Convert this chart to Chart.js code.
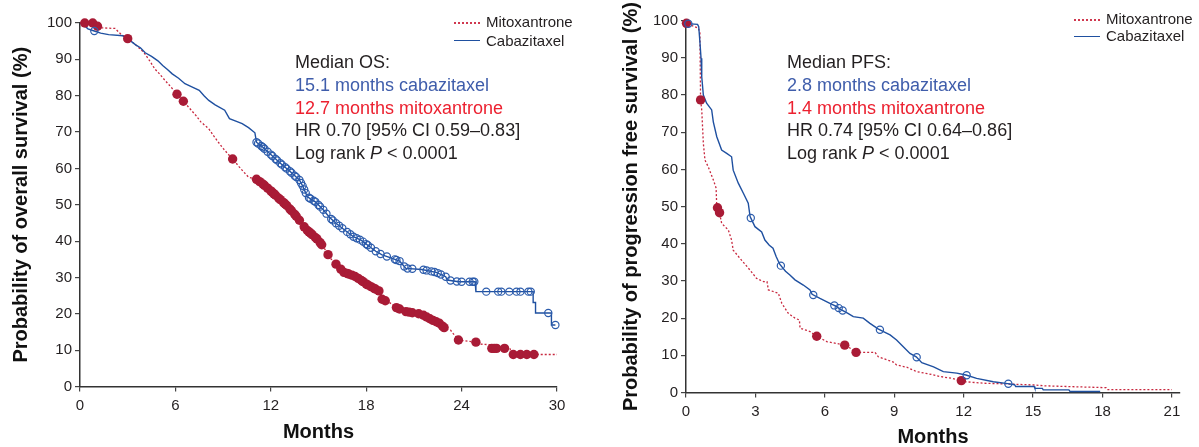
<!DOCTYPE html>
<html>
<head>
<meta charset="utf-8">
<script src="https://cdn.jsdelivr.net/npm/chart.js@4.4.1/dist/chart.umd.min.js"></script>
<style>
  html,body{margin:0;padding:0;background:#fff;}
  body{width:1199px;height:447px;position:relative;overflow:hidden;font-family:"Liberation Sans",Arial,sans-serif;color:#231f20;}
  .wrap{position:absolute;top:0;}
  .t{position:absolute;white-space:nowrap;font-size:18px;line-height:22px;}
  .lg{position:absolute;white-space:nowrap;font-size:15px;line-height:18px;}
  .ln{position:absolute;height:0;}
</style>
</head>
<body>
<div class="wrap" style="left:0;width:600px;height:447px"><canvas id="c1" width="600" height="447"></canvas></div>
<div class="wrap" style="left:600px;width:599px;height:447px"><canvas id="c2" width="599" height="447"></canvas></div>

<!-- left legend + annotation -->
<div class="ln" style="left:454px;top:22px;width:26px;border-top:2px dotted #d0384f"></div>
<div class="lg" style="left:486px;top:13px">Mitoxantrone</div>
<div class="ln" style="left:454px;top:40px;width:26px;border-top:1.5px solid #1f50a0"></div>
<div class="lg" style="left:486px;top:32px">Cabazitaxel</div>
<div class="t" style="left:295px;top:51px">Median OS:</div>
<div class="t" style="left:295px;top:74px;color:#3f5dab">15.1 months cabazitaxel</div>
<div class="t" style="left:295px;top:97px;color:#ec2130">12.7 months mitoxantrone</div>
<div class="t" style="left:295px;top:119px">HR 0.70 [95% CI 0.59–0.83]</div>
<div class="t" style="left:295px;top:142px">Log rank <i>P</i> &lt; 0.0001</div>

<!-- right legend + annotation -->
<div class="ln" style="left:1074px;top:19px;width:26px;border-top:2px dotted #d0384f"></div>
<div class="lg" style="left:1106px;top:10px">Mitoxantrone</div>
<div class="ln" style="left:1074px;top:36px;width:26px;border-top:1.5px solid #1f50a0"></div>
<div class="lg" style="left:1106px;top:27px">Cabazitaxel</div>
<div class="t" style="left:787px;top:51px">Median PFS:</div>
<div class="t" style="left:787px;top:74px;color:#3f5dab">2.8 months cabazitaxel</div>
<div class="t" style="left:787px;top:97px;color:#ec2130">1.4 months mitoxantrone</div>
<div class="t" style="left:787px;top:119px">HR 0.74 [95% CI 0.64–0.86]</div>
<div class="t" style="left:787px;top:142px">Log rank <i>P</i> &lt; 0.0001</div>

<script>
// ---------- DATA ----------  ([months, survival %] curve vertices)
// Overall survival (left panel)
const osXTicks = [0, 6, 12, 18, 24, 30];
const osCab = [[0,100],[0.3,99.2],[0.5,98.4],[0.9,97.8],[1.3,97.2],[1.8,96.8],[2.7,96.5],[2.9,95.8],[3.2,95],[3.5,94],[3.8,93.2],[4.1,91.8],[4.5,90.8],[4.9,89.6],[5.2,88.3],[5.5,87.2],[5.8,86],[6.2,84.8],[6.6,83.3],[7.0,82.5],[7.5,81.5],[7.8,80],[8.1,78.7],[8.5,77.5],[9.1,76],[9.4,73.7],[9.8,73],[10.2,72.3],[10.6,71.2],[11.0,69.8],[11.1,67.2],[11.5,65.8],[12.0,63.8],[12.6,61.4],[13.2,59.2],[13.8,56.8],[14.0,55.2],[14.3,52.2],[14.8,50.8],[15.3,48.6],[15.7,46.5],[16.1,44.9],[16.6,43.2],[17.2,41.2],[17.7,40.2],[18.2,38.5],[18.6,37.2],[19.0,36.2],[19.6,35.3],[20.1,34.5],[20.3,33.5],[20.5,32.5],[21.5,32.2],[22.4,31.4],[23.0,30.2],[23.1,29.3],[23.8,28.8],[24.85,28.8],[24.9,26.1],[28.5,26.1],[28.5,23.1],[28.65,23.1],[28.65,20.2],[29.65,20.2],[29.65,16.9],[29.9,16.9]];
const osCabCensor = [0.9,11.1,11.2,11.4,11.5,11.6,11.8,12.0,12.1,12.3,12.4,12.6,12.7,12.9,13.0,13.2,13.3,13.5,13.6,13.8,13.9,14.0,14.1,14.2,14.4,14.5,14.7,14.8,15.0,15.1,15.3,15.5,15.8,15.9,16.1,16.3,16.5,16.8,17.0,17.2,17.4,17.6,17.8,18.0,18.1,18.3,18.6,18.9,19.3,19.8,19.9,20.1,20.4,20.6,20.9,21.6,21.8,22.1,22.3,22.5,22.7,23.0,23.3,23.7,24.0,24.5,24.7,24.8,25.55,26.3,26.5,27.0,27.45,27.7,28.2,28.35,29.45,29.9];
const osMit = [[0,100],[1.0,100],[1.05,99.3],[1.2,98.7],[2.2,98.5],[2.6,96.8],[3.0,95.7],[3.5,94],[4.0,92],[4.4,89.5],[4.7,87.4],[5.0,86],[5.35,84.2],[5.7,82.5],[6.1,80.4],[6.45,78.7],[6.7,77.5],[7.0,76],[7.3,74.5],[7.6,72.8],[8.1,70.9],[8.4,69],[8.7,67.2],[9.0,65.5],[9.3,64],[9.6,62.6],[10.0,60.5],[10.3,59],[10.6,57.6],[11.1,57.0],[11.5,55.7],[12.0,53.8],[12.5,51.8],[13.0,49.8],[13.5,47.4],[13.9,45.2],[14.2,43.3],[14.6,41.8],[15.0,40.2],[15.4,37.8],[15.7,35.5],[16.2,33.2],[16.6,31.4],[17.2,30.5],[17.6,29.5],[18.0,28.2],[18.5,27],[18.8,26.3],[19.0,24],[19.5,23],[19.9,21.7],[20.5,20.6],[21.3,20.0],[21.6,19.6],[22.1,18.4],[22.6,17.4],[23.0,15.8],[23.3,15.5],[23.8,12.8],[24.9,12.2],[25.0,11.7],[25.8,11.5],[25.9,10.5],[27.05,10.5],[27.1,8.8],[30,8.8]];
const osMitCensor = [0.3,0.8,1.1,3.0,6.1,6.5,9.6,11.1,11.3,11.5,11.6,11.8,12.0,12.1,12.2,12.3,12.5,12.6,12.8,12.9,13.0,13.2,13.3,13.5,13.6,13.8,14.1,14.3,14.4,14.5,14.6,14.8,14.9,15.1,15.2,15.6,16.1,16.4,16.6,16.8,16.9,17.1,17.3,17.5,17.7,17.8,18.0,18.1,18.3,18.5,18.6,18.8,19.0,19.2,19.9,20.1,20.5,20.7,20.9,21.3,21.6,21.8,22.0,22.2,22.4,22.6,22.8,22.9,23.8,24.9,25.9,26.05,26.2,26.7,27.25,27.7,28.1,28.55];

// Progression free survival (right panel)
const pfsXTicks = [0, 3, 6, 9, 12, 15, 18, 21];
const pfsCab = [[0,100],[0.05,99.2],[0.5,99],[0.55,98.4],[0.6,94.4],[0.65,89.9],[0.68,84.9],[0.75,80],[0.89,77.8],[1.11,76],[1.18,72.8],[1.33,68.8],[1.54,65.2],[1.76,64.3],[1.97,63.4],[2.04,59.8],[2.26,56.3],[2.48,53.6],[2.69,50.9],[2.77,47.3],[2.98,44.6],[3.27,43.2],[3.41,41],[3.6,39.6],[3.76,38.8],[3.9,36.5],[4.05,34.5],[4.3,32.6],[4.49,31.6],[4.71,30.3],[5.07,28.9],[5.36,27.6],[5.45,26.4],[5.79,25.3],[6.22,24],[6.45,23.3],[6.7,22.3],[7.0,21.3],[7.23,20.4],[7.66,20],[7.95,18.6],[8.3,17.1],[8.6,16.2],[8.82,15.5],[9.1,14.1],[9.39,12.3],[9.68,10.5],[9.95,9.6],[10.19,8],[10.7,6.9],[11.12,5.6],[11.7,5.2],[12.1,4.7],[12.56,3.8],[13.28,2.9],[13.9,2.4],[14.2,2.1],[14.25,1.6],[15.05,1.6],[15.08,1.1],[15.4,1.1],[15.44,0.7],[16.55,0.7],[16.6,0.25],[17.9,0.25]];
const pfsCabCensor = [0.1,2.8,4.1,5.5,6.41,6.6,6.77,8.38,9.97,12.13,13.93];
const pfsMit = [[0,100],[0.02,99.3],[0.53,98],[0.6,96.8],[0.63,78.7],[0.68,76],[0.75,67],[0.82,62.5],[0.96,60.7],[1.18,57.2],[1.3,55],[1.33,50],[1.43,49],[1.54,45.5],[1.83,43.7],[1.97,41],[2.04,38.3],[2.33,36.1],[2.55,34.5],[2.77,32.9],[3.05,30.7],[3.35,29.8],[3.5,29.8],[3.56,27.6],[3.99,26.7],[4.14,24],[4.42,21.3],[4.71,20],[4.9,19.5],[4.93,17.3],[5.36,16.4],[5.6,15.3],[6.08,13.7],[6.5,13.2],[6.84,12.8],[7.1,11.9],[7.3,10.8],[8.17,10.8],[8.31,9.6],[8.96,8.2],[9.1,7.4],[9.54,6.8],[9.97,5.6],[10.5,5.0],[10.98,4.3],[11.5,3.8],[11.84,3.3],[12.06,2.9],[12.85,2.5],[13.86,2.3],[15.15,2.0],[15.44,1.8],[18.15,1.3],[18.2,0.8],[21.0,0.8]];
const pfsMitCensor = [0.02,0.63,1.36,1.45,5.65,6.86,7.35,11.9];

const yTicksStep = 10;

// ---------- HELPERS ----------
const toPts = arr => arr.map(p => ({x: p[0], y: p[1]}));
function survAt(curve, t) {
  if (t <= curve[0][0]) return curve[0][1];
  for (let i = 0; i < curve.length - 1; i++) {
    const [x0, y0] = curve[i], [x1, y1] = curve[i + 1];
    if (t >= x0 && t <= x1) {
      if (x1 === x0) return y0;
      return y0 + (y1 - y0) * (t - x0) / (x1 - x0);
    }
  }
  return curve[curve.length - 1][1];
}
const censorPts = (ct, curve) => ct.map(t => ({x: t, y: survAt(curve, t)}));

const RED_LINE = '#c8283f', RED_PT = '#a91b36', BLUE = '#1f50a0', BLUE_PT = '#2c5cac';
const FONT = '"Liberation Sans", Arial, sans-serif';

function makeChart(id, o) {
  const datasets = [
    {data: toPts(o.mit), showLine: true, borderColor: RED_LINE, borderWidth: 1.3, borderDash: [2, 2], pointRadius: 0, clip: 10, order: 4},
    {data: toPts(o.cab), showLine: true, borderColor: BLUE, borderWidth: 1.4, pointRadius: 0, clip: 10, order: 3},
    {data: censorPts(o.mitC, o.mit), showLine: false, pointRadius: 4.7, pointBackgroundColor: RED_PT, pointBorderColor: RED_PT, pointBorderWidth: 0, clip: 10, order: 2},
    {data: censorPts(o.cabC, o.cab), showLine: false, pointRadius: 3.6, pointBackgroundColor: 'rgba(255,255,255,0)', pointBorderColor: BLUE_PT, pointBorderWidth: 1.2, clip: 10, order: 1}
  ];
  const gridOpts = {display: true, drawOnChartArea: false, drawTicks: true, tickLength: 5, color: '#444', lineWidth: 1.2};
  const borderOpts = {display: true, color: '#333', width: 1.5};
  return new Chart(document.getElementById(id), {
    type: 'scatter',
    data: {datasets},
    options: {
      responsive: false, animation: false, events: [],
      layout: {padding: o.padding},
      plugins: {legend: {display: false}, tooltip: {enabled: false}},
      scales: {
        x: {
          type: 'linear', min: 0, max: o.xMax,
          afterBuildTicks: s => { s.ticks = o.xTicks.map(v => ({value: v})); },
          afterFit: s => { s.height = o.xHeight; },
          grid: gridOpts, border: borderOpts,
          ticks: {color: '#231f20', font: {family: FONT, size: 15}, padding: 5, maxRotation: 0, autoSkip: false},
          title: {display: true, text: 'Months', color: '#111', font: {family: FONT, size: 20, weight: 'bold', lineHeight: 1.0}, padding: {top: 0, bottom: o.xTitlePad}}
        },
        y: {
          type: 'linear', min: 0, max: 100,
          ticks: {stepSize: yTicksStep, color: '#231f20', font: {family: FONT, size: 15}, padding: 3},
          afterFit: s => { s.width = o.yWidth; },
          grid: gridOpts, border: borderOpts,
          title: {display: true, text: o.yTitle, color: '#111', font: {family: FONT, size: 20, weight: 'bold', lineHeight: 1.2}, padding: {top: o.yTitlePad, bottom: 0}}
        }
      }
    }
  });
}

makeChart('c1', {
  mit: osMit, mitC: osMitCensor, cab: osCab, cabC: osCabCensor,
  xMax: 30, xTicks: osXTicks, xHeight: 60.5, xTitlePad: 5,
  yWidth: 80, yTitlePad: 9,
  yTitle: 'Probability of overall survival (%)',
  padding: {left: 0, top: 23, right: 43, bottom: 0}
});
makeChart('c2', {
  mit: pfsMit, mitC: pfsMitCensor, cab: pfsCab, cabC: pfsCabCensor,
  xMax: 21.35, xTicks: pfsXTicks, xHeight: 54.5, xTitlePad: 0,
  yWidth: 86, yTitlePad: 19,
  yTitle: 'Probability of progression free survival (%)',
  padding: {left: 0, top: 20.7, right: 19, bottom: 0}
});
</script>
</body>
</html>
